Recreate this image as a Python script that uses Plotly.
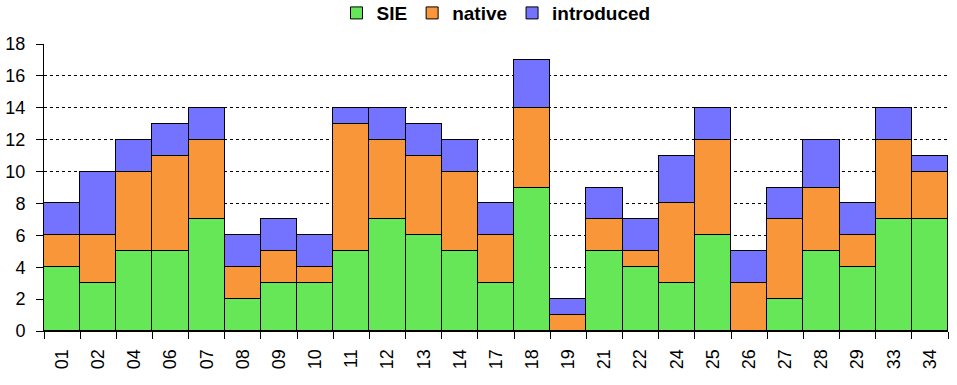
import plotly.graph_objects as go

categories = ["01","02","04","06","07","08","09","10","11","12","13","14","17","18","19","21","22","24","25","26","27","28","29","33","34"]
sie =        [4,3,5,5,7,2,3,3,5,7,6,5,3,9,0,5,4,3,6,0,2,5,4,7,7]
native =     [2,3,5,6,5,2,2,1,8,5,5,5,3,5,1,2,1,5,6,3,5,4,2,5,3]
introduced = [2,4,2,2,2,2,2,2,1,2,2,2,2,3,1,2,2,3,2,2,2,3,2,2,1]

series = [("SIE", sie, "#66E757"), ("native", native, "#F99639"), ("introduced", introduced, "#7373FF")]

fig = go.Figure()
for name, vals, col in series:
    fig.add_trace(go.Bar(x=categories, y=vals, name="<b>%s</b>" % name,
                         marker=dict(color=col, line=dict(color="black", width=1))))

fig.update_layout(
    barmode="stack", bargap=0,
    width=957, height=385,
    margin=dict(l=44, r=9, t=44, b=54, autoexpand=False),
    plot_bgcolor="white", paper_bgcolor="white",
    font=dict(family="Liberation Sans, Arial", size=18, color="black"),
    legend=dict(orientation="h", x=0.5, xanchor="center", y=1.174, yanchor="top",
                traceorder="normal",
                font=dict(size=19, family="Liberation Sans, Arial"),
                itemwidth=30, tracegroupgap=0),
    showlegend=True,
)
fig.update_xaxes(type="category", tickangle=-90, tickson="boundaries",
                 ticks="outside", ticklen=7, tickcolor="black", automargin=False,
                 showline=True, linecolor="black", linewidth=1, showgrid=False,
                 tickfont=dict(size=18), ticklabelstandoff=10)
fig.update_yaxes(range=[0, 18], dtick=2, ticks="outside", ticklen=7, tickcolor="black",
                 automargin=False,
                 showline=True, linecolor="black", linewidth=1,
                 showgrid=True, gridcolor="black", gridwidth=1, griddash="3px,3px",
                 zeroline=False, tickfont=dict(size=18), ticklabelstandoff=7)

fig.write_html("out.html", config={"displayModeBar": False},
               post_script="document.body.style.margin='0';document.body.style.overflow='hidden';")
